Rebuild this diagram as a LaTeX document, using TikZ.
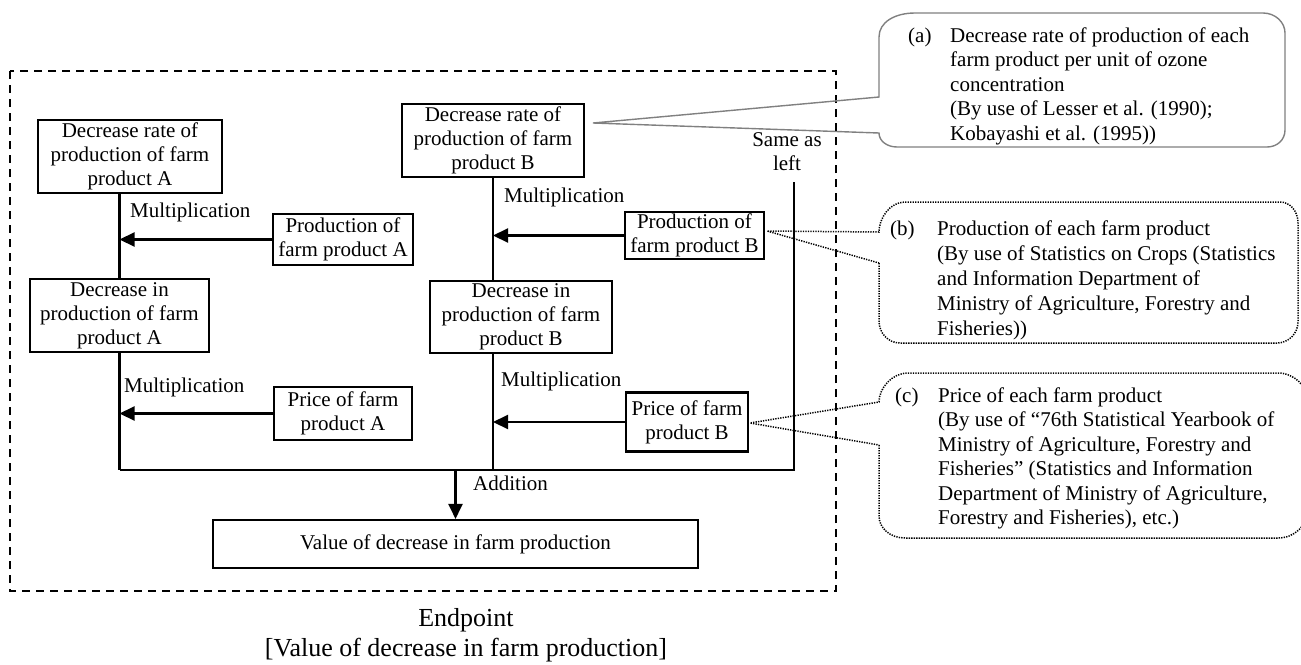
\documentclass[tikz,border=0pt]{standalone}
\usepackage{fontspec}
\setmainfont{Liberation Serif}
\usetikzlibrary{arrows.meta}
\begin{document}
\begin{tikzpicture}[x=1pt,y=-1pt,
  font=\fontsize{21}{24}\selectfont,
  blk/.style={draw, line width=2.1pt, align=center, inner sep=0pt},
  ln/.style={line width=2.1pt},
  arr/.style={line width=2.1pt, -{Triangle[length=15pt,width=14pt]}},
  lbl/.style={inner sep=0pt, anchor=west},
  note/.style={inner sep=0pt, anchor=north west, align=left, font=\fontsize{21}{24.5}\selectfont},
  tag/.style={inner sep=0pt, anchor=base west},
  grayline/.style={draw=black!50, line width=1.4pt},
  dotline/.style={line width=1.5pt, dash pattern=on 1.3pt off 1.2pt},
  frame/.style={line width=2pt, dash pattern=on 8pt off 6pt},
]
\useasboundingbox (0,0) rectangle (1301,664);

% dashed enclosure
\draw[frame] (10,71) rectangle (836,591);

% product A column
\node[blk, minimum width=184pt, minimum height=73pt] (a1) at (130,156.5)
  {Decrease rate of\\production of farm\\product A};
\node[blk, minimum width=140pt, minimum height=51pt] (pa) at (343,239.5)
  {Production of\\farm product A};
\node[blk, minimum width=179pt, minimum height=73pt] (a2) at (119.5,315.5)
  {Decrease in\\production of farm\\product A};
\node[blk, minimum width=138pt, minimum height=53pt] (pra) at (343,413.5)
  {Price of farm\\product A};

% product B column
\node[blk, minimum width=182pt, minimum height=73pt] (b1) at (493,140.5)
  {Decrease rate of\\production of farm\\product B};
\node[blk, minimum width=139pt, minimum height=47pt] (pb) at (694.5,235.5)
  {Production of\\farm product B};
\node[blk, minimum width=182pt, minimum height=72pt] (b2) at (521,317)
  {Decrease in\\production of farm\\product B};
\node[blk, minimum width=122pt, minimum height=59pt] (prb) at (687,422)
  {Price of farm\\product B};

% result
\node[blk, minimum width=485pt, minimum height=48pt] (value) at (455.5,544)
  {Value of decrease in farm production};

% operation labels
\node[lbl] (m1) at (130,212) {Multiplication};
\node[lbl] (m2) at (124,387) {Multiplication};
\node[lbl] (m3) at (504,197) {Multiplication};
\node[lbl] (m4) at (501,381) {Multiplication};
\node[lbl] (add) at (473,483) {Addition};
\node[inner sep=0pt, align=center] (same) at (787,151.5) {Same as\\left};

% summing bus
\coordinate (busL) at (119.5,470);
\coordinate (busR) at (794,470);
\coordinate (sametop) at (794,182);

% column A connectors
\draw[ln] (a1.south -| a2.north) -- (a2.north);
\draw[ln] (a2.south) -- (busL);
\draw[arr] (pa.west) -- (pa.west -| a2.north);
\draw[arr] (pra.west) -- (pra.west -| a2.north);

% column B connectors
\draw[ln] (b1.south) -- (b1.south |- b2.north);
\draw[ln] (b2.south -| b1.south) -- (b1.south |- busL);
\draw[arr] (pb.west) -- (pb.west -| b1.south);
\draw[arr] (prb.west) -- (prb.west -| b1.south);

% bus and further products
\draw[ln] (busL) -- (busR) -- (sametop);
\draw[arr] (value.north |- busL) -- (value.north);

% bottom caption
\node[font=\fontsize{26}{30}\selectfont, inner sep=0pt] (ep) at (466,620) {Endpoint};
\node[font=\fontsize{26}{30}\selectfont, inner sep=0pt] (ep2) at (466,650) {[Value of decrease in farm production]};

% callout (a)
\coordinate (tipa) at (593,123);
\draw[grayline] (879,97) -- (879,37) .. controls (879,22) and (895,13) .. (915,13)
  -- (1263,13) .. controls (1275,13) and (1285,22) .. (1285,33)
  -- (1285,130) .. controls (1285,140) and (1277,147) .. (1267,147)
  -- (897,147) .. controls (887,147) and (879,141) .. (879,133)
  -- (tipa) -- cycle;
\node[tag] (ta) at (908,42) {(a)};
\node[note] (na) at (950,24.85) {\strut Decrease rate of production of each\\
  farm product per unit of ozone\\concentration\\
  (By use of Lesser et al. (1990);\\Kobayashi et al. (1995))};

% callout (b)
\coordinate (tipb) at (767,231);
\draw[dotline] (879,263) -- (879,321) .. controls (879,333) and (888,343) .. (900,343)
  -- (1277,343) .. controls (1289,343) and (1298,333) .. (1298,322)
  -- (1298,223) .. controls (1298,211) and (1290,202) .. (1280,202)
  -- (905,202) .. controls (890,202) and (879,218) .. (879,232)
  -- (tipb) -- cycle;
\node[tag] (tb) at (890,235) {(b)};
\node[note, font=\fontsize{21}{25}\selectfont] (nb) at (937,217.5) {\strut Production of each farm product\\
  (By use of Statistics on Crops (Statistics\\
  and Information Department of\\
  Ministry of Agriculture, Forestry and\\
  Fisheries))};

% callout (c)
\coordinate (tipc) at (750,423);
\draw[dotline] (879,445) -- (879,516) .. controls (879,528) and (890,538) .. (905,538)
  -- (1278,538) .. controls (1294,538) and (1308,526) .. (1308,508)
  -- (1308,403) .. controls (1308,386) and (1294,373) .. (1278,373)
  -- (908,373) .. controls (892,373) and (879,388) .. (879,402)
  -- (tipc) -- cycle;
\node[tag] (tc) at (895,402) {(c)};
\node[note] (nc) at (938,384.85) {\strut Price of each farm product\\
  (By use of “76th Statistical Yearbook of\\
  Ministry of Agriculture, Forestry and\\
  Fisheries” (Statistics and Information\\
  Department of Ministry of Agriculture,\\
  Forestry and Fisheries), etc.)};
\end{tikzpicture}
\end{document}
